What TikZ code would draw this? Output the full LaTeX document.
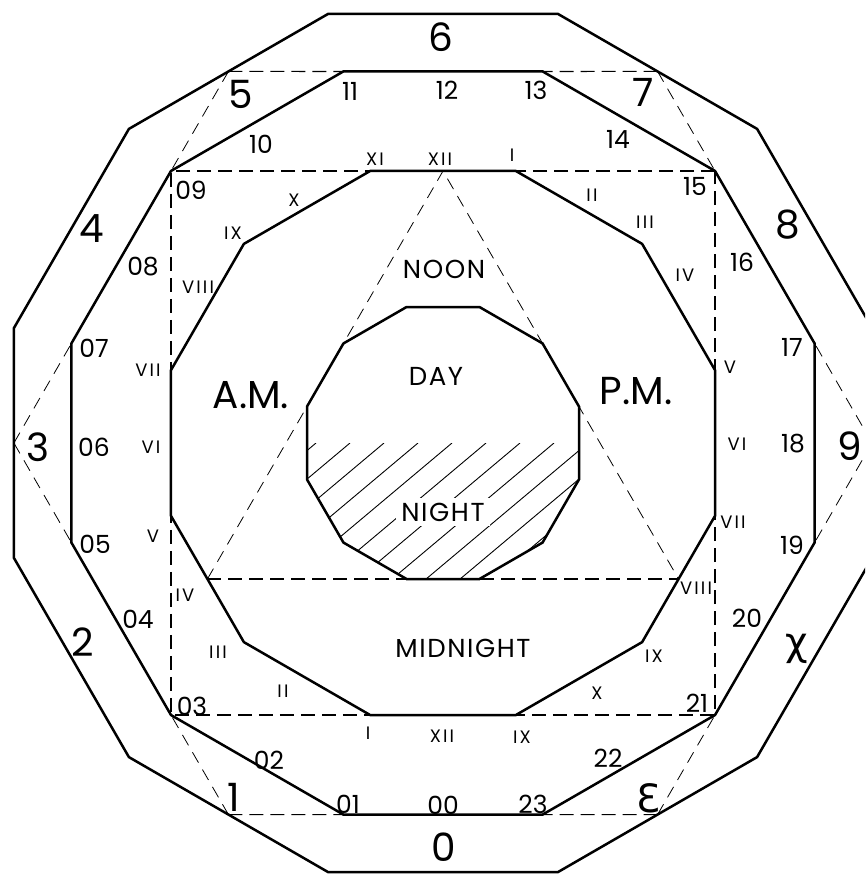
\documentclass[tikz,border=0pt]{standalone}
\usepackage{fontspec}
\setmainfont{Poppins}
\newfontfamily\dv{DejaVu Sans}
\begin{document}
\begin{tikzpicture}[x=1pt,y=-1pt,
  poly/.style={line width=2.5pt, line join=miter},
  dsh/.style={line width=1.2pt, dash pattern=on 14pt off 7pt},
  tdsh/.style={line width=0.8pt, dash pattern=on 12pt off 8pt},
  hatch/.style={line width=0.9pt},
  big/.style={font=\fontsize{39}{39}\selectfont, inner sep=0pt},
  hr/.style={font=\fontsize{25}{25}\selectfont, inner sep=0pt},
  rom/.style={font=\fontsize{18}{18}\selectfont\addfontfeatures{LetterSpace=12}, inner sep=0pt},
  lbl/.style={font=\fontsize{26}{26}\selectfont\addfontfeatures{LetterSpace=6}, inner sep=0pt},
]
\fill[white] (0,0) rectangle (865,875);
\clip (0,0) rectangle (865,875);
\begin{scope}[shift={(443,443)}, yscale=-1]
  \foreach \i in {0,...,11} {
    \coordinate (o\i) at ({15+30*\i}:444.2);
    \coordinate (p\i) at ({15+30*\i}:384.7);
    \coordinate (q\i) at ({15+30*\i}:281.6);
    \coordinate (n\i) at ({15+30*\i}:140.8);
  }
  \foreach \j in {0,...,5} { \coordinate (m\j) at ({60*\j}:429.1); }
  \coordinate (t1) at (90:272);
  \coordinate (t2) at (210:272);
  \coordinate (t3) at (330:272);
  % dashed square
  \draw[dsh] (p1) -- (p4) -- (p7) -- (p10) -- cycle;
  % extensions of the hour ring's top and bottom edges
  \draw[dsh] (m2) -- (p3);
  \draw[dsh] (m1) -- (p2);
  \draw[dsh] (m4) -- (p8);
  \draw[dsh] (m5) -- (p9);
  % other dashed connectors to the hexagon points
  \draw[tdsh] (m2) -- (p4);
  \draw[tdsh] (m1) -- (p1);
  \draw[tdsh] (m3) -- (p5);
  \draw[tdsh] (m3) -- (p6);
  \draw[tdsh] (m0) -- (p0);
  \draw[tdsh] (m0) -- (p11);
  \draw[tdsh] (m4) -- (p7);
  \draw[tdsh] (m5) -- (p10);
  % triangle
  \draw[tdsh] (t2) -- (t1) -- (t3);
  \draw[dsh] (t2) -- (t3);
  % hatching of the night half
  \begin{scope}
    \clip (n0) \foreach \i in {1,...,11}{ -- (n\i) } -- cycle;
    \clip (-200,0) rectangle (200,-200);
    \foreach \k in {0,...,11} {
      \draw[hatch] ({-127+34*\k},0) -- ({-127+34*\k-300},-252);
    }
  \end{scope}
  % polygons
  \draw[poly] (o0) \foreach \i in {1,...,11}{ -- (o\i) } -- cycle;
  \draw[poly] (p0) \foreach \i in {1,...,11}{ -- (p\i) } -- cycle;
  \draw[poly] (q0) \foreach \i in {1,...,11}{ -- (q\i) } -- cycle;
  \draw[poly] (n0) \foreach \i in {1,...,11}{ -- (n\i) } -- cycle;
\end{scope}

% big dozenal numerals
\node[big] (B6) at (441,37) {6};
\node[big] (B5) at (241,94) {5};
\node[big] (B7) at (643,92) {7};
\node[big] (B4) at (92,229) {4};
\node[big] (B8) at (788,225) {8};
\node[big] (B3) at (38,447) {3};
\node[big] (B9) at (850,446) {9};
\node[big] (B2) at (83,642) {2};
\node[big] (BX) at (797,649) {\dv χ};
\node[big] (B1) at (234,797) {1};
\node[big] (BE) at (648,798) {\dv Ɛ};
\node[big] (B0) at (444,847) {0};

% 24-hour ring
\node[hr] (H00) at (443,805) {00};
\node[hr] (H01) at (348,804) {01};
\node[hr] (H02) at (269,760) {02};
\node[hr] (H03) at (192,706) {03};
\node[hr] (H04) at (138,619) {04};
\node[hr] (H05) at (95,544) {05};
\node[hr] (H06) at (94,447) {06};
\node[hr] (H07) at (94,348) {07};
\node[hr] (H08) at (143,267) {08};
\node[hr] (H09) at (191,190) {09};
\node[hr] (H10) at (261,144) {10};
\node[hr] (H11) at (350,91) {11};
\node[hr] (H12) at (447,90) {12};
\node[hr] (H13) at (536,90) {13};
\node[hr] (H14) at (618,139) {14};
\node[hr] (H15) at (695,186) {15};
\node[hr] (H16) at (742,262) {16};
\node[hr] (H17) at (792,347) {17};
\node[hr] (H18) at (793,444) {18};
\node[hr] (H19) at (792,545) {19};
\node[hr] (H20) at (747,618) {20};
\node[hr] (H21) at (697,703) {21};
\node[hr] (H22) at (608,758) {22};
\node[hr] (H23) at (533,804) {23};

% roman numerals
\node[rom] (R12t) at (440,159) {XII};
\node[rom] (R11t) at (375,159) {XI};
\node[rom] (R1t) at (512,155) {I};
\node[rom] (R2r) at (592,195) {II};
\node[rom] (R3r) at (645,222) {III};
\node[rom] (R4r) at (685,275) {IV};
\node[rom] (R5r) at (730,367) {V};
\node[rom] (R6r) at (737,444) {VI};
\node[rom] (R7r) at (733,522) {VII};
\node[rom] (R8r) at (696,588) {VIII};
\node[rom] (R9r) at (654,656) {IX};
\node[rom] (R10r) at (597,693) {X};
\node[rom] (R11b) at (522,737) {IX};
\node[rom] (R12b) at (442,736) {XII};
\node[rom] (R1b) at (368,733) {I};
\node[rom] (R2l) at (283,691) {II};
\node[rom] (R3l) at (218,652) {III};
\node[rom] (R4l) at (185,595) {IV};
\node[rom] (R5l) at (153,536) {V};
\node[rom] (R6l) at (151,447) {VI};
\node[rom] (R7l) at (148,370) {VII};
\node[rom] (R8l) at (198,287) {VIII};
\node[rom] (R9l) at (233,233) {IX};
\node[rom] (R10l) at (294,200) {X};

% words
\node[lbl] (noon) at (444,269) {NOON};
\node[lbl] (day) at (436,376) {DAY};
\node[lbl, fill=white, inner sep=5pt] (night) at (443,512) {NIGHT};
\node[lbl] (midnight) at (463,648) {MIDNIGHT};
\node[big] (am) at (251,395) {A.M.};
\node[big] (pm) at (636,391) {P.M.};
\end{tikzpicture}
\end{document}
